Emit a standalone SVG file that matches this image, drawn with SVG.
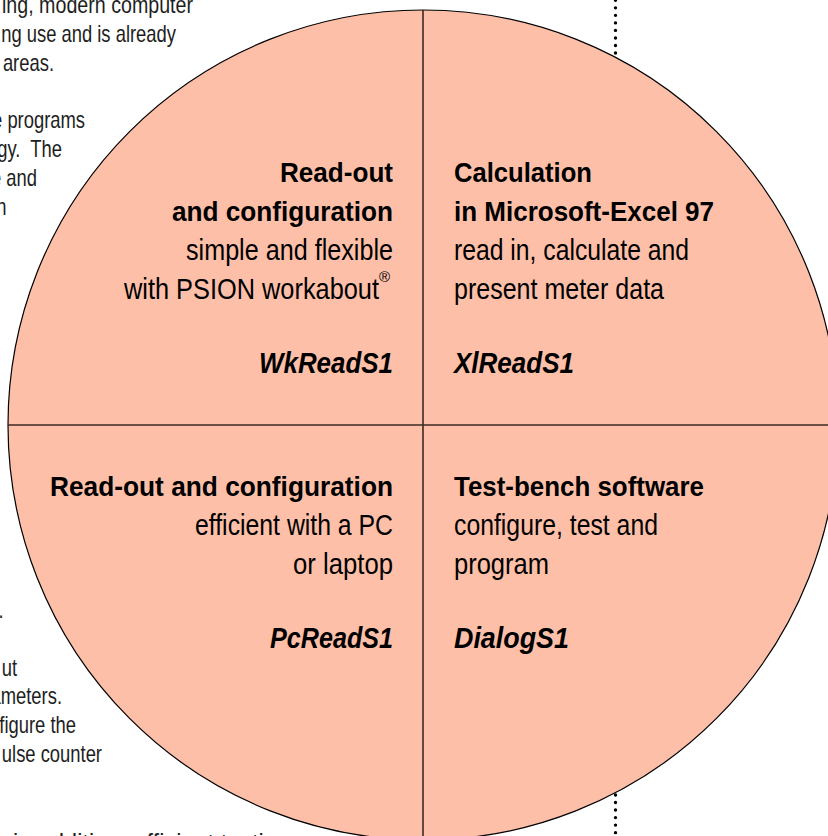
<svg xmlns="http://www.w3.org/2000/svg" width="828" height="836" viewBox="0 0 828 836">
<style>
.bg{font-family:"Liberation Sans",Arial,sans-serif;font-size:23px;fill:#1e1e1e;text-anchor:end}
.bgs{font-family:"Liberation Sans",Arial,sans-serif;font-size:23px;fill:#1e1e1e}
.h{font-family:"Liberation Sans",Arial,sans-serif;font-size:28px;font-weight:bold;fill:#000}
.r{font-family:"Liberation Sans",Arial,sans-serif;font-size:29px;fill:#000}
.i{font-family:"Liberation Sans",Arial,sans-serif;font-size:29px;font-weight:bold;font-style:italic;fill:#000}
.reg{font-family:"Liberation Sans",Arial,sans-serif;font-size:15px;fill:#000}
.e{text-anchor:end}
.dot{stroke:#000;stroke-width:3.4;stroke-linecap:round;stroke-dasharray:0 7.53;fill:none}
</style>
<rect width="828" height="836" fill="#fff"/>
<g id="background-text">
<text class="bgs" x="2" y="13" textLength="191" lengthAdjust="spacingAndGlyphs">ing, modern computer</text>
<g class="bg" transform="scale(0.8,1)">
<text x="220" y="41.8">ng use and is already</text>
<text x="67.5" y="70.6">f areas.</text>
<text x="106.3" y="128.2">e programs</text>
<text x="77.5" y="157" xml:space="preserve">gy.  The</text>
<text x="46.3" y="185.8">e and</text>
<text x="8" y="214.6">n</text>
<text x="4.4" y="618">.</text>
<text x="21.3" y="675.6">ut</text>
<text x="77.5" y="704.4">ameters.</text>
<text x="95" y="733.2">figure the</text>
<text x="127.5" y="762">ulse counter</text>
</g>
<text class="bgs" x="13" y="851" textLength="277" lengthAdjust="spacingAndGlyphs">in addition, efficient testing</text>
</g>
<g id="dotted-line">
<path class="dot" d="M615.5 0.3V56"/>
<path class="dot" d="M615.5 795V836"/>
</g>
<g id="circle">
<circle cx="423" cy="425" r="415" fill="#fdbfa8" stroke="#000" stroke-width="1.2"/>
</g>
<g id="dividers" stroke="#3a2a25" stroke-width="1.6">
<line x1="423" y1="10" x2="423" y2="836"/>
<line x1="8" y1="425" x2="828" y2="425"/>
</g>
<g id="q-wkreads1">
<text class="h e" x="393" y="182" textLength="113" lengthAdjust="spacingAndGlyphs">Read-out</text>
<text class="h e" x="393" y="221" textLength="221" lengthAdjust="spacingAndGlyphs">and configuration</text>
<text class="r e" x="393" y="260" textLength="207" lengthAdjust="spacingAndGlyphs">simple and flexible</text>
<text class="r e" x="379" y="299" textLength="255" lengthAdjust="spacingAndGlyphs">with PSION workabout</text>
<text class="reg" x="379" y="282">®</text>
<text class="i e" x="393" y="373" textLength="134" lengthAdjust="spacingAndGlyphs">WkReadS1</text>
</g>
<g id="q-xlreads1">
<text class="h" x="454" y="182" textLength="138" lengthAdjust="spacingAndGlyphs">Calculation</text>
<text class="h" x="454" y="221" textLength="260" lengthAdjust="spacingAndGlyphs">in Microsoft-Excel 97</text>
<text class="r" x="454" y="260" textLength="235" lengthAdjust="spacingAndGlyphs">read in, calculate and</text>
<text class="r" x="454" y="299" textLength="210" lengthAdjust="spacingAndGlyphs">present meter data</text>
<text class="i" x="454" y="373" textLength="120" lengthAdjust="spacingAndGlyphs">XlReadS1</text>
</g>
<g id="q-pcreads1">
<text class="h e" x="393" y="496" textLength="343" lengthAdjust="spacingAndGlyphs">Read-out and configuration</text>
<text class="r e" x="393" y="535" textLength="198" lengthAdjust="spacingAndGlyphs">efficient with a PC</text>
<text class="r e" x="393" y="574" textLength="100" lengthAdjust="spacingAndGlyphs">or laptop</text>
<text class="i e" x="393" y="648" textLength="123" lengthAdjust="spacingAndGlyphs">PcReadS1</text>
</g>
<g id="q-dialogs1">
<text class="h" x="454" y="496" textLength="250" lengthAdjust="spacingAndGlyphs">Test-bench software</text>
<text class="r" x="454" y="535" textLength="204" lengthAdjust="spacingAndGlyphs">configure, test and</text>
<text class="r" x="454" y="574" textLength="95" lengthAdjust="spacingAndGlyphs">program</text>
<text class="i" x="454" y="648" textLength="115" lengthAdjust="spacingAndGlyphs">DialogS1</text>
</g>
</svg>
